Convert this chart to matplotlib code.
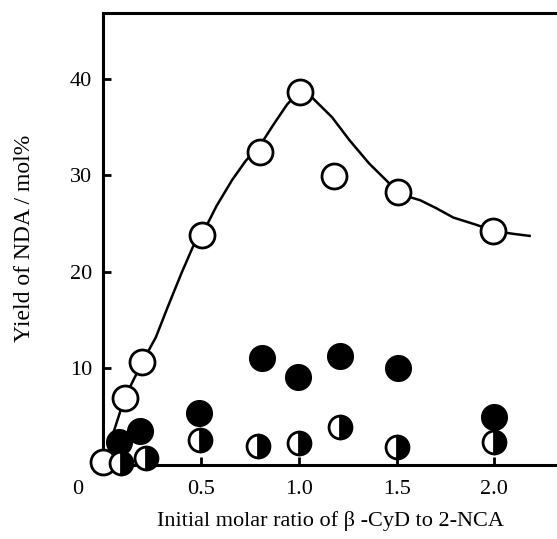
import numpy as np
import matplotlib.pyplot as plt

plt.rcParams['font.family'] = ['Liberation Serif', 'DejaVu Serif']

# open circles
open_x = [0.0, 0.11, 0.20, 0.505, 0.80, 1.005, 1.18, 1.505, 1.995]
open_y = [0.3, 6.9, 10.6, 23.8, 32.4, 38.6, 29.9, 28.2, 24.2]

# filled circles
fill_x = [0.08, 0.19, 0.49, 0.81, 0.995, 1.21, 1.505, 2.0]
fill_y = [2.3, 3.5, 5.4, 11.0, 9.1, 11.3, 10.0, 4.9]

# half filled circles
half_x = [0.09, 0.22, 0.495, 0.79, 1.0, 1.21, 1.5, 2.0]
half_y = [0.2, 0.7, 2.5, 1.9, 2.2, 3.9, 1.8, 2.3]

# hand drawn curve through the open circles
curve_x = [0.04, 0.11, 0.20, 0.27, 0.33, 0.40, 0.46, 0.505, 0.58, 0.66, 0.73, 0.80,
           0.87, 0.94, 1.0, 1.07, 1.17, 1.26, 1.36, 1.455, 1.505, 1.62, 1.70,
           1.79, 1.90, 2.0, 2.10, 2.18]
curve_y = [2.5, 6.9, 10.6, 13.2, 16.3, 19.8, 22.6, 23.8, 26.8, 29.5, 31.5, 33.0,
           35.2, 37.3, 38.6, 38.0, 36.0, 33.6, 31.2, 29.3, 28.1, 27.4, 26.6,
           25.6, 24.9, 24.2, 23.9, 23.7]

fig = plt.figure(figsize=(5.57, 5.39), dpi=100)
ax = fig.add_axes([0.185, 0.138, 0.815, 0.838])

ax.plot(curve_x, curve_y, color='black', lw=1.8, zorder=1)
ax.plot(open_x, open_y, 'o', ms=18, mfc='white', mec='black', mew=2.0,
        zorder=3, clip_on=False)
ax.plot(fill_x, fill_y, 'o', ms=18.5, mfc='black', mec='black', zorder=2, clip_on=False)
ax.plot(half_x, half_y, 'o', ms=16.5, fillstyle='right', mfc='black',
        markerfacecoloralt='white', mec='black', mew=2.0, zorder=4, clip_on=False)

ax.set_xlim(0, 2.32)
ax.set_ylim(0, 46.8)

ax.spines['right'].set_visible(False)
for s in ['left', 'top', 'bottom']:
    ax.spines[s].set_linewidth(2.2)
    ax.spines[s].set_clip_on(False)

ax.set_xticks([0.5, 1.0, 1.5, 2.0])
ax.set_xticklabels(['0.5', '1.0', '1.5', '2.0'])
ax.set_yticks([10, 20, 30, 40])
ax.tick_params(direction='in', length=6, width=2, labelsize=16)
ax.tick_params(axis='x', pad=11)
ax.tick_params(axis='y', pad=8)
ax.text(-0.13, -2.6, '0', fontsize=16, ha='center', va='center', clip_on=False)

ax.set_xlabel('Initial molar ratio of β -CyD to 2-NCA', fontsize=16, labelpad=9)
ax.set_ylabel('Yield of NDA / mol%', fontsize=17, labelpad=25)

fig.savefig('out.png', dpi=100)
